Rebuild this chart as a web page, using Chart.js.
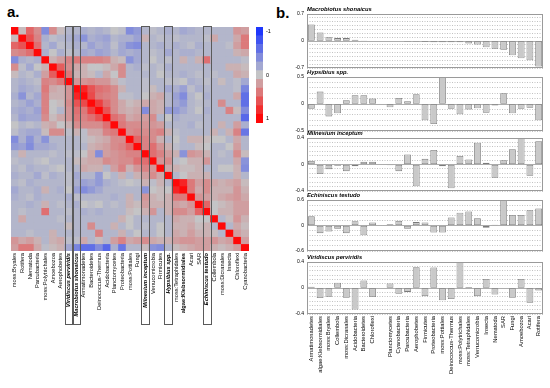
<!DOCTYPE html>
<html><head><meta charset="utf-8">
<script src="https://cdn.jsdelivr.net/npm/chart.js@4.4.1/dist/chart.umd.min.js"></script>
<style>
html,body{margin:0;padding:0;background:#fff;}
body{width:550px;height:388px;position:relative;overflow:hidden;font-family:'Liberation Sans',Arial,sans-serif;}
canvas{position:absolute;}
.lbl{position:absolute;font-weight:bold;font-size:15px;line-height:15px;color:#000;}
</style></head><body>
<div class="lbl" style="left:7px;top:4px">a.</div>
<div class="lbl" style="left:276px;top:5px">b.</div>
<canvas id="heat" width="254" height="330" style="left:0;top:0"></canvas>
<canvas id="cbar" width="30" height="110" style="left:254px;top:20px"></canvas>
<script>
// ---------- DATA ----------
const heatLabels = ['moss:Bryales','Rotifera','Nematoda','Parcubacteria','moss:Polytrichales','Amoebozoa','Aerophobetes','Viridiscus perviridis','Macrobiotus shonaicus','Armatimonadetes','Bacteroidetes','Deinococcus-Thermus','Acidobacteria','Planctomycetes','Proteobacteria','moss:Pottiales','Fungi','Milnesium inceptum','Verrucomicrobia','Firmicutes','Hypsibius spp.','moss:Tetraphidales','algae:Klebsormidiales','Acari','SAR','Echiniscus testudo','Collembola','moss:Dicranales','Insecta','Chloroflexi','Cyanobacteria'];
const tardigradeIdx = [7, 8, 17, 20, 25];
const boldIdx = [22];
// lower triangle of the (symmetric) correlation matrix, row i holds columns 0..i
const heatLower = [
[1],
[0.05,1],
[0.5,0.6,1],
[0.3,0.35,0.45,1],
[-0.4,-0.15,-0.1,-0.15,1],
[0.3,-0.05,-0.2,0,0.1,1],
[0.05,-0.1,-0.05,-0.15,0.2,0.55,1],
[-0.1,-0.15,-0.1,-0.05,0.35,0.3,0.4,1],
[-0.1,-0.2,-0.15,-0.1,0.4,0.15,0.1,0.25,1],
[-0.15,-0.35,-0.1,-0.2,0.35,0.1,0.1,0.25,0.85,1],
[-0.1,-0.15,-0.25,-0.15,0.35,0,0.05,0.3,0.6,0.65,1],
[-0.15,-0.2,-0.15,-0.25,0.35,0,-0.1,0.25,0.45,0.4,0.7,1],
[-0.1,-0.25,-0.2,-0.2,0.3,0.05,0.15,0.25,0.4,0.35,0.45,0.6,1],
[0,-0.1,-0.05,-0.1,0.1,0.15,0,0.1,0.3,0.3,0.3,0.3,0.45,1],
[-0.05,-0.15,-0.2,-0.2,0.05,0.3,0.3,-0.05,0.1,-0.05,0.15,0.15,0.35,0.4,1],
[-0.4,-0.15,-0.35,-0.15,-0.35,-0.1,-0.1,-0.1,-0.1,-0.05,0.05,0.1,0.15,0.3,0.3,1],
[-0.3,-0.25,-0.4,-0.2,-0.2,-0.15,-0.1,-0.1,-0.1,-0.1,0.1,0.15,0.2,0.3,0.35,0.5,1],
[-0.1,0.1,-0.1,-0.1,-0.1,-0.05,-0.1,-0.05,-0.05,0,0.15,-0.4,0.2,0.25,0.3,0.35,0.35,1],
[-0.05,-0.1,-0.1,-0.05,0,-0.1,-0.1,-0.1,0.05,0.1,0.15,0.15,0.3,0.25,0.3,0.3,0.45,0.45,1],
[-0.1,-0.05,-0.15,-0.1,-0.1,-0.05,0,-0.1,-0.1,0.15,0.1,0.1,-0.1,0.2,0.35,0.1,0.25,0.35,0.25,1],
[-0.15,-0.1,-0.1,-0.2,-0.05,-0.15,-0.1,-0.05,-0.2,-0.1,-0.1,-0.3,0,-0.1,0.1,-0.1,0.1,0.2,0.3,0.15,1],
[-0.1,-0.05,-0.15,-0.1,-0.1,-0.1,-0.1,-0.05,-0.15,-0.25,-0.2,-0.3,-0.15,-0.1,-0.05,0,-0.05,0.1,-0.05,0.1,-0.1,1],
[-0.2,-0.1,-0.1,-0.15,0.1,-0.1,-0.15,0,-0.25,-0.4,-0.3,-0.2,-0.1,-0.1,-0.1,-0.1,-0.1,-0.35,0,0.05,0,0.85,1],
[-0.15,-0.1,-0.05,-0.15,-0.1,-0.1,-0.1,-0.15,-0.05,-0.1,-0.1,-0.1,-0.1,-0.15,-0.1,0.1,-0.1,0.25,0.1,0.05,0.1,0.4,0.4,1],
[-0.1,-0.1,-0.15,-0.1,0.1,-0.1,-0.05,-0.1,-0.15,0,-0.05,0,-0.1,-0.05,-0.1,0.1,0.05,0.2,0.1,0.1,0.1,0.2,0.15,0.25,1],
[-0.1,-0.05,-0.1,-0.1,0.45,-0.1,-0.1,-0.05,-0.1,-0.15,-0.1,-0.15,-0.1,-0.1,-0.1,0.05,0,0.1,0.25,-0.1,0.1,0.3,0.3,0.2,0.5,1],
[-0.1,0.15,-0.1,-0.1,-0.1,-0.1,-0.05,-0.1,-0.1,-0.1,-0.1,-0.1,-0.1,-0.1,0.1,0,-0.1,-0.1,-0.1,-0.1,-0.1,0.15,0.1,0.1,0,0,1],
[-0.1,-0.1,-0.1,-0.1,-0.1,-0.1,-0.1,0.05,-0.1,-0.1,0.3,-0.1,-0.1,0.1,-0.1,0,-0.1,-0.05,-0.1,0,-0.1,0.1,0.1,0.15,0.05,0.1,-0.1,1],
[-0.1,-0.1,-0.05,-0.1,-0.1,0.1,-0.1,-0.1,-0.1,-0.1,-0.1,0.35,-0.1,-0.1,0.1,-0.1,0,-0.1,-0.1,0,-0.1,0.15,0.1,0.2,0.1,0.1,0.05,-0.1,1],
[0.25,0.15,0.2,0.1,-0.1,0.1,0.15,-0.05,-0.05,0.15,-0.1,0.05,-0.1,0.2,0.35,0.15,0.2,0.3,0.15,0.1,0.1,0.2,0.25,0.25,0.2,0.2,0.25,0.15,0.2,1],
[0.2,0.4,0.4,0.15,-0.05,0.05,0.1,-0.2,-0.45,-0.6,-0.6,-0.4,-0.65,-0.15,-0.55,-0.1,-0.1,0.05,-0.35,-0.4,-0.1,0.05,0.1,0.15,0.2,0.2,0.1,0.05,0.1,0.2,1]
];
const colorbarValues = [-1,-0.8,-0.6,-0.4,-0.2,0,0.2,0.4,0.6,0.8,1];
const colorbarTicks = ['-1','','','','','0','','','','','1'];

const barLabels = ['Armatimonadetes','algae:Klebsormidiales','moss:Bryales','Collembola','moss:Dicranales','Acidobacteria','Bacteroidetes','Chloroflexi','','Planctomycetes','Cyanobacteria','Parcubacteria','Aerophobetes','Firmicutes','Proteobacteria','moss:Pottiales','Deinococcus-Thermus','moss:Polytrichales','moss:Tetraphidales','Verrucomicrobia','Insecta','Nematoda','SAR','Fungi','Amoebozoa','Acari','Rotifera'];
const panelTitles = ['Macrobiotus shonaicus','Hypsibius spp.','Milnesium inceptum','Echiniscus testudo','Viridiscus perviridis'];
const macrobiotus = [0.43,0.22,0.1,0.075,0.075,0.035,0.015,0,null,0,0,-0.02,-0.02,-0.025,-0.03,-0.03,-0.035,-0.035,-0.065,-0.09,-0.165,-0.2,-0.23,-0.37,-0.45,-0.5,-0.66];
const hypsibius = [-0.09,0.23,-0.23,-0.17,0.07,0.16,0.16,0.1,null,-0.06,0.11,0.05,0.18,-0.3,-0.37,0.5,-0.09,-0.19,-0.1,-0.08,-0.16,-0.03,0.2,-0.17,-0.09,-0.07,-0.3];
const milnesium = [0.055,-0.145,-0.07,-0.02,-0.1,-0.025,0.04,0.04,null,-0.01,-0.1,0.15,-0.33,0.085,0.22,-0.025,-0.36,0.13,0.075,0.33,0.025,-0.2,0.065,0.23,0.4,-0.17,0.35];
const echiniscus = [0.22,-0.18,-0.14,-0.075,-0.18,0.1,-0.23,0.07,null,0.03,0.11,-0.075,0.08,0.07,-0.165,-0.165,0.19,0.3,0.33,0.17,-0.05,0.015,0.6,0.25,0.25,0.36,0.4];
const viridiscus = [0.02,-0.155,-0.135,0.08,-0.15,-0.33,0.115,-0.14,null,0.07,-0.09,-0.06,0.32,-0.125,0.315,-0.19,-0.17,0.4,0.015,-0.125,0.14,-0.1,0,-0.15,0.14,-0.225,-0.04];
const panelSeries = [macrobiotus, hypsibius, milnesium, echiniscus, viridiscus];
const panelMax = [0.7, 0.5, 0.4, 0.6, 0.4];
const panelGridPerHalf = [7, 5, 6, 5, 6];

// ---------- LAYOUT / STYLE ----------
const panelBox = [[14,70],[77,133],[138,193],[200,253],[262,314]];
const FONT = "'Liberation Sans', Arial, sans-serif";

function heatColor(v){
  const g=[196,196,198], b=[30,55,252], r=[255,8,8];
  const t=Math.min(1,Math.abs(v)); const e = v<0?b:r;
  return 'rgb(' + g.map((c,i)=>Math.round(c+(e[i]-c)*t)).join(',') + ')';
}

const heatRows = heatLabels.map((_, i) => heatLabels.map((_, j) => i >= j ? heatLower[i][j] : heatLower[j][i]));

const rectPlugin = {
  id:'tardiRects',
  afterDraw(chart){
    const xs = chart.scales.x, ctx = chart.ctx;
    const w = (xs.right - xs.left) / heatLabels.length;
    ctx.save(); ctx.strokeStyle = '#5a5a5a'; ctx.lineWidth = 1;
    tardigradeIdx.forEach(j => {
      const cx = xs.getPixelForValue(j);
      ctx.strokeRect(Math.round(cx - w/2) + 0.5, 26.5, Math.round(w), 298);
    });
    ctx.restore();
  }
};

new Chart(document.getElementById('heat'), {
  type:'bar',
  data:{ labels: heatLabels, datasets: heatRows.map((row, i) => ({
    data: row.map((v, j) => ({x: heatLabels[j], y: [i, i+1], v: v})),
    backgroundColor: row.map(v => heatColor(v)),
    borderWidth:0, barPercentage:1, categoryPercentage:1, grouped:false
  }))},
  options:{
    responsive:false, animation:false, events:[],
    layout:{padding:{left:11, top:27, right:5, bottom:0}},
    plugins:{legend:{display:false}, tooltip:{enabled:false}},
    scales:{
      x:{ grid:{display:false, drawTicks:false}, border:{display:false},
          ticks:{ autoSkip:false, minRotation:90, maxRotation:90, padding:2, color:'#000',
            font: c => ({family:FONT, size:5.7,
              weight: (tardigradeIdx.includes(c.index) || boldIdx.includes(c.index)) ? 'bold' : 'normal',
              style: tardigradeIdx.includes(c.index) ? 'italic' : 'normal'}) },
          afterFit: s => { s.height = 79; } },
      y:{ type:'linear', reverse:true, min:0, max:heatLabels.length, display:false }
    }
  },
  plugins:[rectPlugin]
});

new Chart(document.getElementById('cbar'), {
  type:'bar',
  data:{ labels: colorbarValues.map(String), datasets:[{
    data: colorbarValues.map(() => 1), backgroundColor: colorbarValues.map(heatColor),
    borderWidth:0, barPercentage:1, categoryPercentage:1 }]},
  options:{
    indexAxis:'y', responsive:false, animation:false, events:[],
    layout:{padding:{left:2, top:7, bottom:7, right:0}},
    plugins:{legend:{display:false}, tooltip:{enabled:false}},
    scales:{
      x:{display:false, min:0, max:1},
      y:{ position:'right', grid:{display:false, drawTicks:false}, border:{display:false},
          ticks:{ autoSkip:false, color:'#000', padding:3, font:{family:FONT, size:5.5}, callback:(v,i) => colorbarTicks[i] },
          afterFit: s => { s.width = 21; } }
    }
  }
});

const boxPlugin = {
  id:'boxOutline',
  afterDraw(chart){
    const a = chart.chartArea, ctx = chart.ctx;
    ctx.save(); ctx.strokeStyle = '#9a9a9a'; ctx.lineWidth = 1;
    ctx.strokeRect(Math.round(a.left)+0.5, Math.round(a.top)+0.5, Math.round(a.right-a.left)-1, Math.round(a.bottom-a.top)-1);
    ctx.restore();
  }
};

panelSeries.forEach((series, k) => {
  const last = k === panelSeries.length - 1;
  const [bt, bb] = panelBox[k];
  const top = bt - 8;
  const h = last ? 388 - top : (bb - bt + 12);
  const cv = document.createElement('canvas');
  cv.width = 270; cv.height = h;
  cv.style.left = '280px'; cv.style.top = top + 'px';
  document.body.appendChild(cv);
  const max = panelMax[k];
  const xScale = { display: last, grid:{display:false, drawTicks:false}, border:{display:false},
      ticks:{ autoSkip:false, minRotation:90, maxRotation:90, padding:2, color:'#000', font:{family:FONT, size:5.8} } };
  if (last) xScale.afterFit = s => { s.height = 74; };
  new Chart(cv, {
    type:'bar',
    data:{ labels: barLabels, datasets:[{ data: series, backgroundColor:'#c9c9c9', borderColor:'#7a7a7a',
      borderWidth:0.8, barPercentage:0.78, categoryPercentage:1, borderSkipped:false }]},
    options:{
      responsive:false, animation:false, events:[],
      layout:{padding:{top:0, right:7, bottom: last ? 0 : 4, left:0}},
      plugins:{ legend:{display:false}, tooltip:{enabled:false},
        title:{ display:true, text: panelTitles[k], align:'start', fullSize:false, color:'#000',
          padding:{top:0, bottom:1.04}, font:{family:FONT, size:5.8, weight:'bold', style:'italic', lineHeight:1.2} } },
      scales:{
        x: xScale,
        y:{ min:-max, max:max,
            ticks:{ autoSkip:false, stepSize: max / panelGridPerHalf[k], color:'#000', padding:3, font:{family:FONT, size:5},
              callback: v => Math.abs(v) < 1e-9 ? '0' : (Math.abs(Math.abs(v) - max) < 1e-6 ? (v < 0 ? '-' : '') + max : '') },
            grid:{ drawTicks:false, lineWidth:0.7, color: c => (c.tick && Math.abs(c.tick.value) < 1e-9) ? '#8a8a8a' : '#a8a8a8' },
            border:{ display:false, dash: c => (c.tick && Math.abs(c.tick.value) < 1e-9) ? [] : [1, 1.5] },
            afterFit: s => { s.width = 27; } }
      }
    },
    plugins:[boxPlugin]
  });
});
</script>
</body></html>
